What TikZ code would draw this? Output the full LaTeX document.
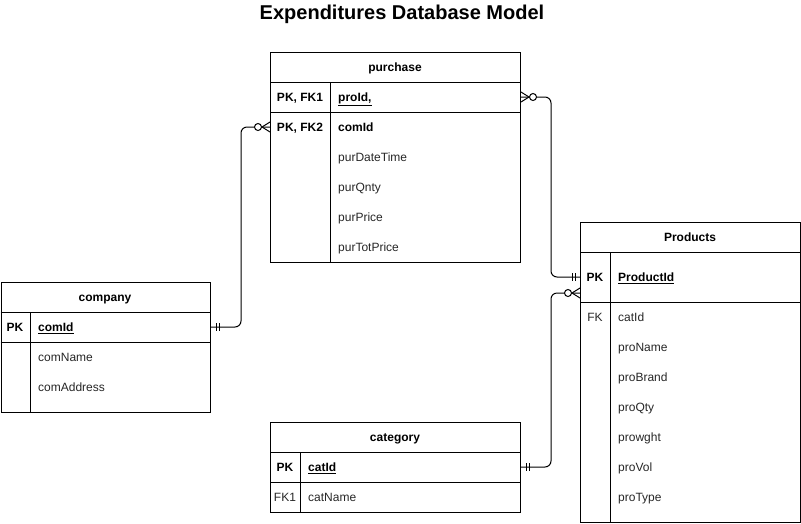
\documentclass[tikz,border=0pt]{standalone}
\usepackage{fontspec}
\setmainfont{Liberation Sans}
\usetikzlibrary{calc}
\begin{document}
\begin{tikzpicture}[x=1pt,y=-1pt,
  tbl/.style={draw, line width=1pt, rectangle, inner sep=0pt, anchor=north west},
  txt/.style={inner sep=0pt, text height=8.6pt, text depth=0pt},
  hdr/.style={txt, font=\fontsize{12}{14}\selectfont\bfseries, anchor=center},
  keyb/.style={txt, font=\fontsize{12}{14}\selectfont\bfseries, anchor=center},
  keyr/.style={txt, font=\fontsize{12}{14}\selectfont, text=black!85, anchor=center},
  fldb/.style={txt, font=\fontsize{12}{14}\selectfont\bfseries, anchor=west},
  fld/.style={txt, font=\fontsize{12}{14}\selectfont, text=black!85, anchor=west},
  sep/.style={line width=1pt},
  rel/.style={line width=1pt, rounded corners=6pt},
  pics/onemark/.style={code={\draw[line width=1pt] (5,-4) -- (5,4) (8,-4) -- (8,4);}},
  pics/zmany/.style={code={\draw[line width=1pt] (8,0) -- (0,-5) (8,0) -- (0,5);
     \draw[line width=1pt, fill=white] (12,0) circle[radius=3.5pt];}},
]
\useasboundingbox (0,0) rectangle (801,523);

% title
\node[font=\fontsize{20}{24}\selectfont\bfseries, inner sep=0pt] (title) at (402,14) {Expenditures Database Model};

% purchase
\node[tbl, minimum width=250pt, minimum height=210pt] (purchase) at (270,52) {};
\draw[sep] (270,82) -- (520,82) (270,112) -- (520,112) (330,82) -- (330,262);
\node[hdr] (purT) at (395,67) {purchase};
\node[keyb] (purK1) at (300,97) {PK, FK1};
\node[fldb] (purProId) at (338,97) {\underline{proId,}};
\node[keyb] (purK2) at (300,127) {PK, FK2};
\node[fldb] (purComId) at (338,127) {comId};
\node[fld] (purDT) at (338,157) {purDateTime};
\node[fld] (purQ) at (338,187) {purQnty};
\node[fld] (purP) at (338,217) {purPrice};
\node[fld] (purTP) at (338,247) {purTotPrice};

% company
\node[tbl, minimum width=209.5pt, minimum height=130pt] (company) at (0.5,282) {};
\draw[sep] (0.5,312) -- (210,312) (0.5,342) -- (210,342) (30,312) -- (30,412);
\node[hdr] (comT) at (105,297) {company};
\node[keyb] (comK) at (15,327) {PK};
\node[fldb] (comComId) at (38,327) {\underline{comId}};
\node[fld] (comName) at (38,357) {comName};
\node[fld] (comAddr) at (38,387) {comAddress};

% Products
\node[tbl, minimum width=220pt, minimum height=300pt] (products) at (580,222) {};
\draw[sep] (580,252) -- (800,252) (580,302) -- (800,302) (610,252) -- (610,522);
\node[hdr] (proT) at (690,237) {Products};
\node[keyb] (proK) at (595,277) {PK};
\node[fldb] (proPId) at (618,277) {\underline{ProductId}};
\node[keyr] (proFK) at (595,317) {FK};
\node[fld] (proCat) at (618,317) {catId};
\node[fld] (proName) at (618,347) {proName};
\node[fld] (proBrand) at (618,377) {proBrand};
\node[fld] (proQty) at (618,407) {proQty};
\node[fld] (proW) at (618,437) {prowght};
\node[fld] (proVol) at (618,467) {proVol};
\node[fld] (proType) at (618,497) {proType};
\coordinate (proIn) at (580,293);

% category
\node[tbl, minimum width=250pt, minimum height=90pt] (category) at (270,422) {};
\draw[sep] (270,452) -- (520,452) (270,482) -- (520,482) (300,452) -- (300,512);
\node[hdr] (catT) at (395,437) {category};
\node[keyb] (catK) at (285,467) {PK};
\node[fldb] (catCatId) at (308,467) {\underline{catId}};
\node[keyr] (catFK) at (285,497) {FK1};
\node[fld] (catName) at (308,497) {catName};

% relations
\draw[rel] (company.east |- comComId) -- ++(30,0) |- (purchase.west |- purComId);
\draw[rel] (purchase.east |- purProId) -- ++(30,0) |- (products.west |- proPId);
\draw[rel] (category.east |- catCatId) -- ++(30,0) |- (proIn);

% end markers
\pic at (company.east |- comComId) {onemark};
\pic[xscale=-1] at (purchase.west |- purComId) {zmany};
\pic at (purchase.east |- purProId) {zmany};
\pic[xscale=-1] at (products.west |- proPId) {onemark};
\pic at (category.east |- catCatId) {onemark};
\pic[xscale=-1] at (proIn) {zmany};
\end{tikzpicture}
\end{document}
